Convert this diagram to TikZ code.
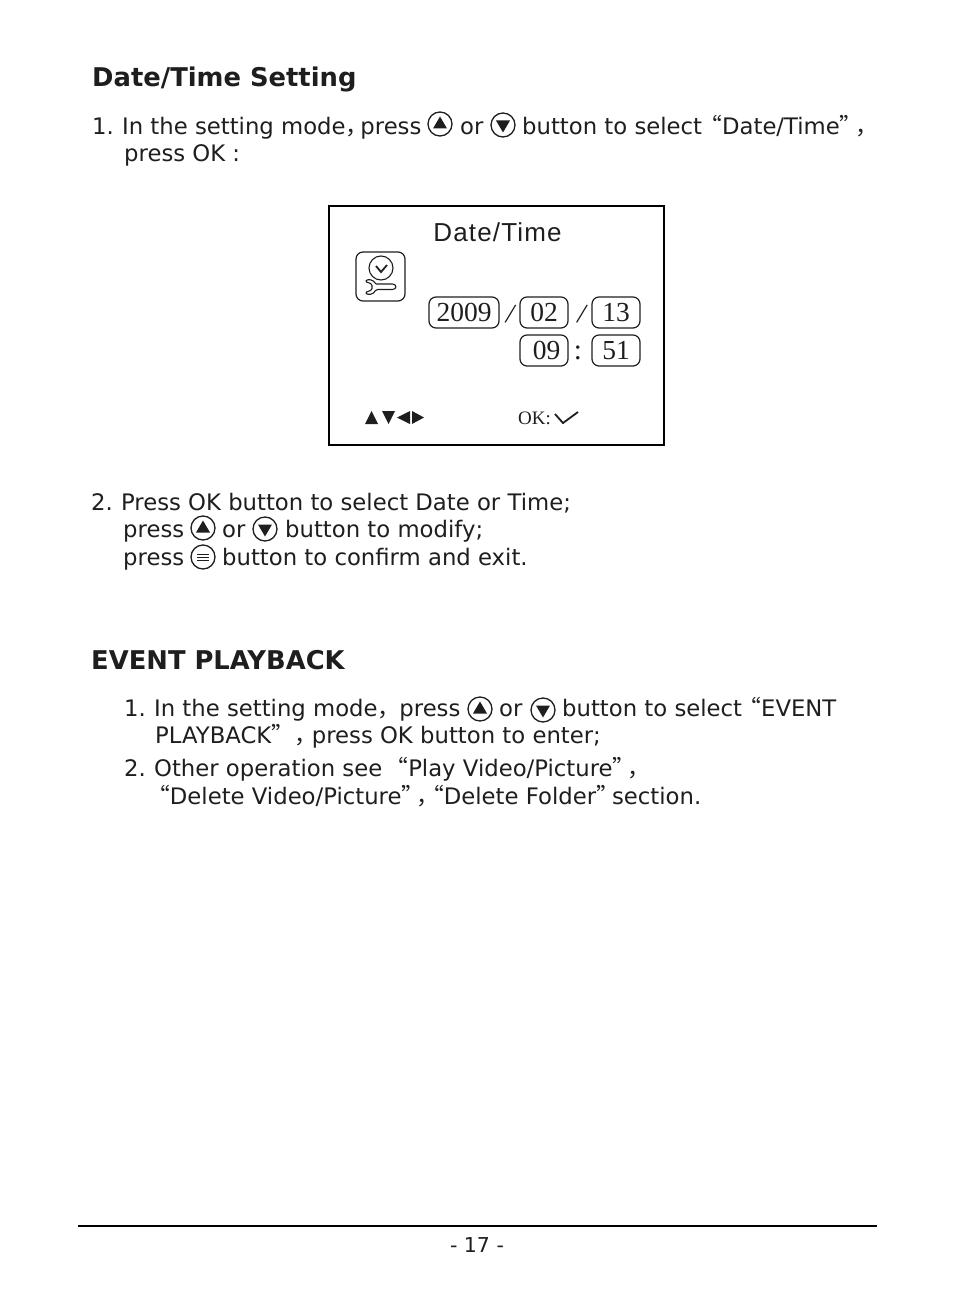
\documentclass[tikz,border=0pt]{standalone}
\usepackage{fontspec}
\setmainfont{DejaVu Sans}
\newfontfamily\cjk{Noto Sans CJK SC}
\newfontfamily\screenfont[LetterSpace=4.4]{Liberation Sans}
\newfontfamily\digitfont{Liberation Serif}
\usetikzlibrary{positioning}
\definecolor{Ink}{RGB}{30, 30, 30}
\newcommand{\opq}{{\kern-8pt\cjk “}}
\newcommand{\clq}{{\cjk ”}}
\newcommand{\wcm}{{\cjk ，}}

\begin{document}
\begin{tikzpicture}[
        x=1pt, y=-1pt,
        line/.style={text=Ink, anchor=base west, inner sep=0pt, font=\fontsize{22.75}{27}\selectfont},
        heading/.style={text=Ink, anchor=base west, inner sep=0pt, font=\fontsize{25.8}{30}\selectfont\bfseries},
        field/.style={draw=Ink, line width=1.2pt, rounded corners=7pt, text=Ink, inner sep=0pt, font=\fontsize{27.5}{30}\digitfont},
        sep/.style={text=Ink, inner sep=0pt, font=\fontsize{29}{30}\digitfont},
        btn/.style={circle, draw=Ink, line width=1.3pt, minimum size=24pt, inner sep=0pt},
        tip/.style={fill=Ink, draw=none}
    ]
        \useasboundingbox (0,0) rectangle (954,1300);

        % first section
        \node [heading] (title1) at (92,87) {Date/Time Setting};
        \node [line] (s1a) at (92,135) {1.\ \kern1pt In the setting mode\wcm\kern-8pt press};
        \node [btn] (up1) at (440,124) {};
        \node [line] (s1b) at (460,135) {or};
        \node [btn] (down1) at (503,125) {};
        \node [line] (s1c) at (522,135) {button to select \kern-2pt\opq Date/Time\clq\kern-7pt\wcm};
        \node [line] (s1d) at (124,162) {press OK :};

        % camera screen
        \node [draw=black, line width=1.3pt, minimum width=335pt, minimum height=239pt, inner sep=0pt] (screen) at (496.5,325.5) {};
        \node [text=Ink, inner sep=0pt, font=\fontsize{26}{30}\screenfont] (screentitle) at (497.5,232) {Date/Time};
        \node [draw=Ink, line width=1.2pt, rounded corners=7pt, minimum size=49pt, inner sep=0pt] (icon) at (380.5,276.5) {};
        \node [circle, draw=Ink, line width=1.1pt, minimum size=24pt, inner sep=0pt] (clock) at (381,268) {};
        \draw [Ink, line width=1.8pt] (376,266) -- (381,272) -- (387,265);
        \draw [Ink, line width=1.1pt, rounded corners=1.5pt] (376,284) -- (391,284) .. controls (397,284) and (397,289.5) .. (391,289.5) -- (376,289.5)
            .. controls (373,295) and (368,295) .. (365,292.5) -- (372,290) -- (372,284) -- (365,281.5) .. controls (368,279) and (373,279) .. (376,284);
        \node [field, minimum width=70pt, minimum height=31pt] (year) at (464,312.5) {2009};
        \node [field, minimum width=48pt, minimum height=31pt] (month) at (544,312.5) {02};
        \node [field, minimum width=48pt, minimum height=31pt] (day) at (616,312.5) {13};
        \node [field, minimum width=48pt, minimum height=31pt] (hour) at (544,350.5) {\hspace{5pt}09};
        \node [field, minimum width=48pt, minimum height=31pt] (minute) at (616,350.5) {51};
        \node [sep] (slash1) at (510.5,314) {\rotatebox{-12}{/}};
        \node [sep] (slash2) at (582,314) {\rotatebox{-12}{/}};
        \node [sep] (colon) at (578,353) {:};
        \fill [tip] (365,424) -- (378,424) -- (371.5,411) -- cycle;
        \fill [tip] (382,411) -- (395,411) -- (388.5,424) -- cycle;
        \fill [tip] (410,411) -- (410,424) -- (397,417.5) -- cycle;
        \fill [tip] (412,411) -- (412,424) -- (424,417.5) -- cycle;
        \node [text=Ink, anchor=base west, inner sep=0pt, font=\fontsize{19}{20}\digitfont] (okhint) at (518,424) {OK:};
        \draw [Ink, line width=1.8pt] (555,414) -- (563,423) -- (578,412);

        % second step
        \node [line] (s2a) at (91,510) {2.\ \kern1pt Press OK button to select Date or Time;};
        \node [line] (s2b) at (123,537) {press};
        \node [btn] (up2) at (203,528) {};
        \node [line] (s2c) at (222,537) {or};
        \node [btn] (down2) at (265,529) {};
        \node [line] (s2d) at (285,537) {button to modify;};
        \node [line] (s2e) at (123,565) {press};
        \node [btn] (menu) at (203,557) {};
        \node [line] (s2f) at (222,565) {button to confirm and exit.};

        % second section
        \node [heading] (title2) at (91,669) {EVENT PLAYBACK};
        \node [line] (e1a) at (124,716) {1.\ \kern1pt In the setting mode\wcm\kern-1pt press};
        \node [btn] (up3) at (480,709) {};
        \node [line] (e1b) at (499,716) {or};
        \node [btn] (down3) at (543,710) {};
        \node [line] (e1c) at (562,716) {button to select \kern-3pt\opq EVENT};
        \node [line] (e1d) at (155,743) {PLAYBACK\clq\wcm\kern-5pt press OK button to enter;};
        \node [line] (e2a) at (124,776) {2.\ \kern1pt Other operation see \kern4pt\opq Play Video/Picture\clq\kern-8pt\wcm};
        \node [line] (e2b) at (155,804) {\opq Delete Video/Picture\clq\kern-8pt\wcm\kern-10pt\opq Delete Folder\clq\kern-14pt\ section.};

        % arrows and bars inside the buttons
        \foreach \b in {up1,up2,up3}
            \fill [tip] (\b.center) ++(-7,4.5) -- ++(14,0) -- ++(-7,-12) -- cycle;
        \foreach \b in {down1,down2,down3}
            \fill [tip] (\b.center) ++(-7,-4.5) -- ++(14,0) -- ++(-7,12) -- cycle;
        \foreach \dy in {-3,0,3}
            \draw [Ink, line width=1pt] ([shift={(-6,\dy)}]menu.center) -- ([shift={(6,\dy)}]menu.center);

        % footer
        \coordinate (ruleL) at (78,1226);
        \coordinate (ruleR) at (877,1226);
        \draw [black, line width=2pt] (ruleL) -- (ruleR);
        \node [text=Ink, inner sep=0pt, anchor=base, font=\fontsize{20.5}{27}\selectfont] (pageno) at (477,1252) {- 17 -};
    \end{tikzpicture}
\end{document}
